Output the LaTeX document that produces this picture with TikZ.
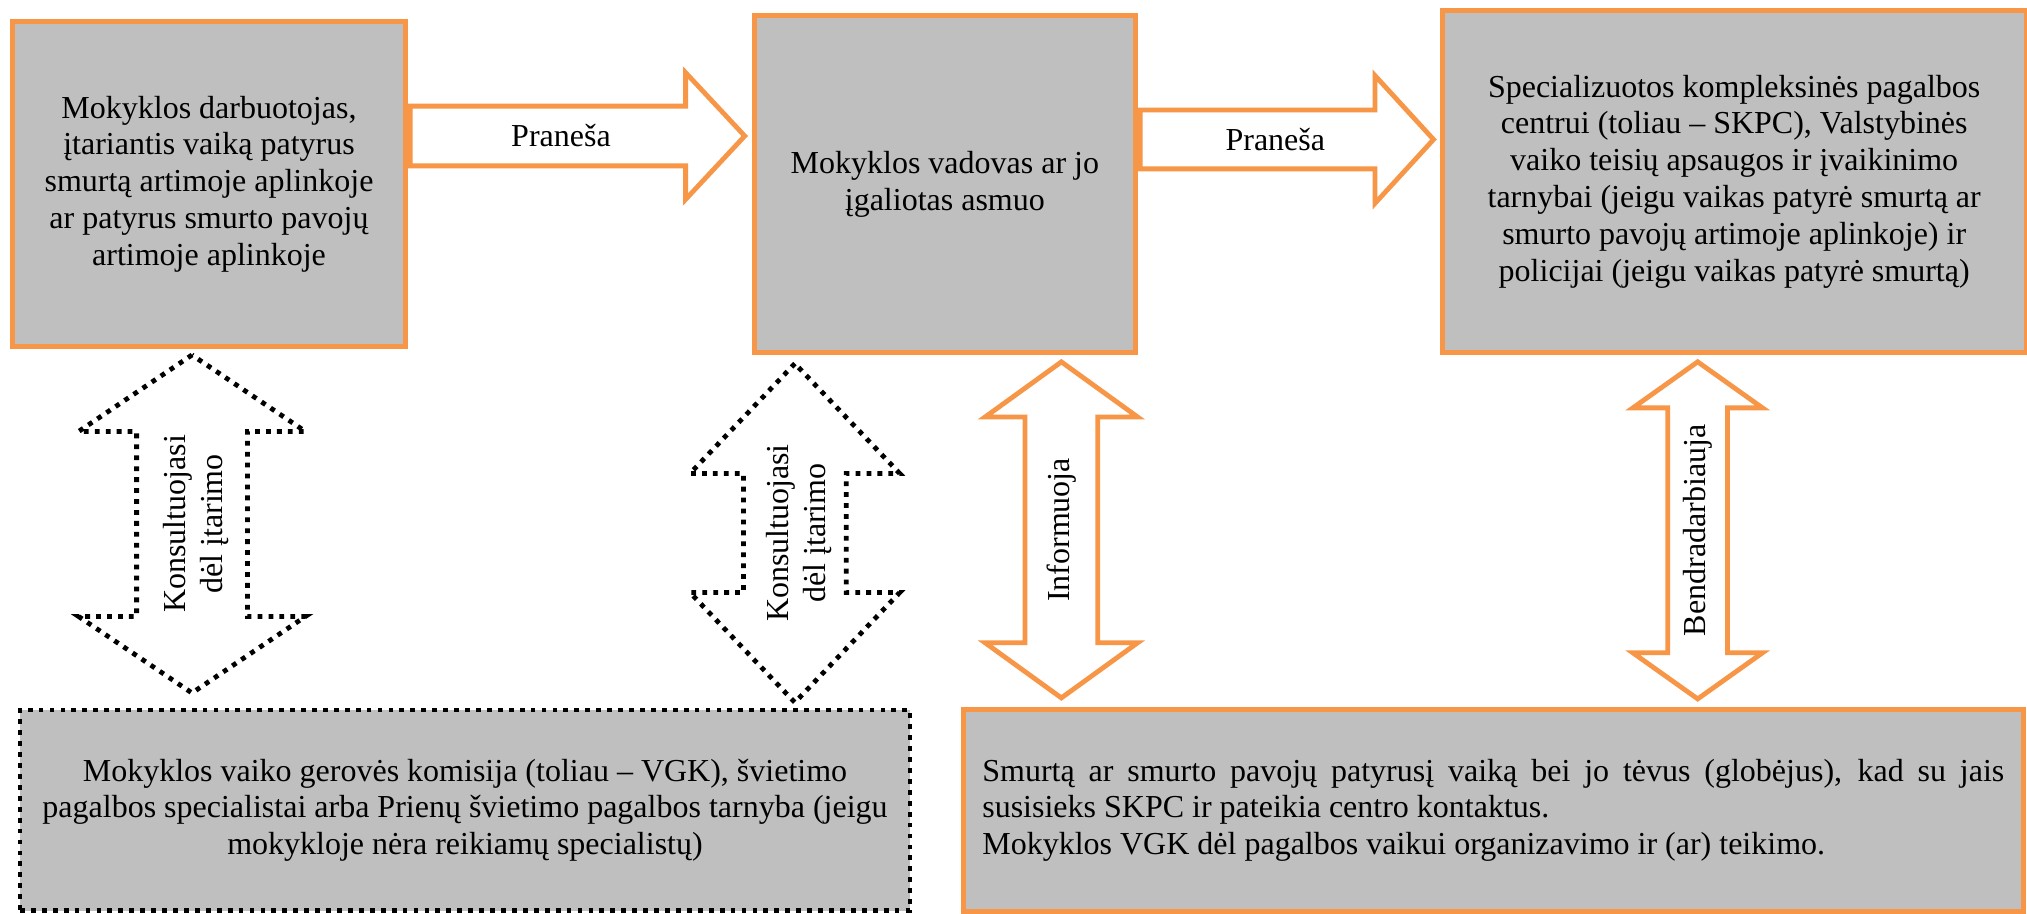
\documentclass[tikz,border=0pt]{standalone}
\usepackage{fontspec}
\setmainfont{Liberation Serif}
\usetikzlibrary{calc,positioning,shapes.arrows}
\definecolor{vgorange}{RGB}{247,150,70}
\definecolor{vggray}{RGB}{191,191,191}

\begin{document}
\begin{tikzpicture}[font=\fontsize{12pt}{13.8pt}\selectfont,
    box/.style={draw=vgorange,line width=1.8pt,fill=vggray,align=center,inner sep=0pt},
    dotbox/.style={draw=black,line width=1.8pt,dash pattern=on 1.8pt off 2.3pt,fill=vggray,align=center,inner sep=0pt},
    sarr/.style={single arrow,draw=vgorange,line width=1.8pt,fill=white,anchor=tail,inner xsep=0pt},
    darr/.style={double arrow,draw=vgorange,line width=1.8pt,fill=white,rotate=90,inner xsep=0pt},
    dotarr/.style={darr,draw=black,line width=1.8pt,dash pattern=on 1.8pt off 2.3pt},
    lbl/.style={rotate=90,align=center,inner sep=0pt}]
  \useasboundingbox (0,0) rectangle (760.125pt,-342.75pt);
  \node[box,minimum width=147.4pt,minimum height=121.9pt] (b1) at (78.375pt,-69pt)
    {Mokyklos darbuotojas,\\įtariantis vaiką patyrus\\smurtą artimoje aplinkoje\\ar patyrus smurto pavojų\\artimoje aplinkoje};
  \node[box,minimum width=142.9pt,minimum height=126.4pt,right=129pt of b1] (b2)
    {Mokyklos vadovas ar jo\\įgaliotas asmuo};
  \node[box,minimum width=219pt,minimum height=128.25pt,right=113.25pt of b2,yshift=0.94pt] (b3)
    {Specializuotos kompleksinės pagalbos\\centrui (toliau – SKPC), Valstybinės\\vaiko teisių apsaugos ir įvaikinimo\\tarnybai (jeigu vaikas patyrė smurtą ar\\smurto pavojų artimoje aplinkoje) ir\\policijai (jeigu vaikas patyrė smurtą)};
  \node[dotbox,minimum width=333.75pt,minimum height=75.2pt] (b4) at (174.375pt,-303.84pt)
    {Mokyklos vaiko gerovės komisija (toliau – VGK), švietimo\\pagalbos specialistai arba Prienų švietimo pagalbos tarnyba (jeigu\\mokykloje nėra reikiamų specialistų)};
  \node[box,minimum width=397.5pt,minimum height=75.75pt,right=18.2pt of b4,align=justify,text width=383.25pt] (b5)
    {Smurtą ar smurto pavojų patyrusį vaiką bei jo tėvus (globėjus), kad su jais\linebreak susisieks SKPC ir pateikia centro kontaktus.\\Mokyklos VGK dėl pagalbos vaikui organizavimo ir (ar) teikimo.};
  \node[sarr,minimum height=125.4pt,minimum width=45.75pt,inner ysep=10.31pt,single arrow head extend=12.56pt,single arrow tip angle=94] (a1) at ($(b1.east)+(0,18pt)$) {};
  \node (p1) at ($(a1.tail)!.45!(a1.tip)$) {Praneša};
  \node[sarr,minimum height=110pt,minimum width=46.1pt,inner ysep=10.125pt,single arrow head extend=12.9pt,single arrow tip angle=95] (a2) at ($(b2.east)+(0,16.7pt)$) {};
  \node (p2) at ($(a2.tail)!.46!(a2.tip)$) {Praneša};
  \node[dotarr,minimum height=126.75pt,minimum width=83.25pt,inner ysep=19.875pt,double arrow head extend=21.75pt,double arrow tip angle=112] (k1)
    at ($(b1.south)!.5!(b1.south |- b4.north)+(-6.375pt,1.6pt)$) {};
  \node[lbl] (k1t) at ($(k1.center)+(1.5pt,0)$) {Konsultuojasi\\dėl įtarimo};
  \node[dotarr,minimum height=127.1pt,minimum width=76.9pt,inner ysep=18.375pt,double arrow head extend=20.06pt,double arrow tip angle=87.3] (k2)
    at ($(b2.south)!.5!(b2.south |- b4.north)+(-56.25pt,-0.66pt)$) {};
  \node[lbl] (k2t) at ($(k2.center)+(1.5pt,0)$) {Konsultuojasi\\dėl įtarimo};
  \node[darr,minimum height=126pt,minimum width=55.5pt,inner ysep=12.75pt,double arrow head extend=15pt,double arrow tip angle=108.3] (inf)
    at ($(b2.south)!.5!(b2.south |- b5.north)+(43.69pt,0.375pt)$) {};
  \node[lbl] (inft) at (inf.center) {Informuoja};
  \node[darr,minimum height=126.4pt,minimum width=46.9pt,inner ysep=10.31pt,double arrow head extend=13.1pt,double arrow tip angle=109.2] (bnd)
    at ($(b3.south)!.5!(b3.south |- b5.north)+(-13.69pt,0.19pt)$) {};
  \node[lbl] (bndt) at (bnd.center) {Bendradarbiauja};
\end{tikzpicture}
\end{document}
